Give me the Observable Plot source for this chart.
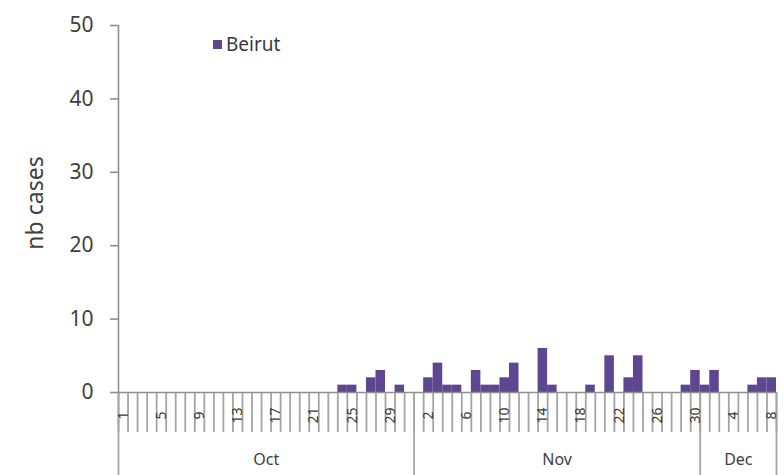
<!DOCTYPE html>
<html><head><meta charset="utf-8">
<script src="https://cdn.jsdelivr.net/npm/d3@7"></script>
<script src="https://cdn.jsdelivr.net/npm/@observablehq/plot@0.6"></script>
<style>
body{margin:0;background:#fff;}
#wrap{position:relative;width:784px;height:475px;font-family:"Noto Sans",sans-serif;}
#legend{position:absolute;left:213px;top:31px;font-size:19px;color:#3a3a3a;display:flex;align-items:center;}
#legend .sw{display:inline-block;width:9px;height:9px;background:#5E4690;margin-right:4px;}
</style></head><body><div id="wrap"><div id="legend"><span class="sw"></span>Beirut</div></div>
<script>
const series = "Beirut";
const months = ["Oct", "Nov", "Dec"];
const monthDays = [31, 30, 8];
// daily cases, Oct 1 .. Dec 8
const octCases = [0,0,0,0,0,0,0,0,0,0,0,0,0,0,0,0,0,0,0,0,0,0,0,1,1,0,2,3,0,1,0];
const novCases = [0,2,4,1,1,0,3,1,1,2,4,0,0,6,1,0,0,0,1,0,5,0,2,5,0,0,0,0,1,3];
const decCases = [1,3,0,0,0,1,2,2];
const yTicks = [0, 10, 20, 30, 40, 50];
const yLabel = "nb cases";
const labelEvery = 4;

const monthly = [octCases, novCases, decCases];
const data = [];
monthly.forEach((arr, m) => arr.forEach((v, k) => data.push({i: data.length, month: months[m], day: k + 1, value: v})));
const n = data.length;
const boundaries = d3.range(n + 1);
const starts = [0];
monthDays.forEach(d => starts.push(starts[starts.length - 1] + d));
const monthCenters = months.map((m, j) => (starts[j] + starts[j + 1]) / 2);
const labelIdx = data.filter(d => d.i % labelEvery === 0);

const chart = Plot.plot({
  width: 784, height: 475,
  marginLeft: 118, marginRight: 8, marginTop: 25, marginBottom: 83,
  style: {fontFamily: "Noto Sans, sans-serif", color: "#404040", background: "#fff"},
  x: {type: "linear", domain: [0, n], axis: null},
  y: {domain: [0, 50], axis: null},
  marks: [
    Plot.rectY(data.filter(d => d.value > 0), {x1: "i", x2: d => d.i + 1, y: "value", fill: "#5E4690"}),
    Plot.axisX({ticks: boundaries, tickSize: 40, tickFormat: () => "", label: null, stroke: "#a4a4a4", strokeWidth: 1.8}),
    Plot.axisX({ticks: starts, tickSize: 83, tickFormat: () => "", label: null, stroke: "#a4a4a4", strokeWidth: 1.8}),
    Plot.axisX({ticks: labelIdx.map(d => d.i + 0.5), tickSize: 0, tickPadding: 23, tickRotate: -90, textAnchor: "middle", label: null,
      tickFormat: v => String(data[Math.floor(v)].day), fontSize: 14, fill: "#3a3a3a"}),
    Plot.axisX({ticks: monthCenters, tickSize: 0, tickPadding: 61, label: null,
      tickFormat: v => months[monthCenters.indexOf(v)], fontSize: 16, fill: "#404040"}),
    Plot.ruleY([0], {stroke: "#909090", strokeWidth: 1.6}),
    Plot.ruleX([0], {stroke: "#909090", strokeWidth: 1.6}),
    Plot.axisY({ticks: yTicks, tickSize: 8, tickPadding: 17, fontSize: 21, label: null, stroke: "#909090", strokeWidth: 1.6, fill: "#404040"}),
    Plot.text([yLabel], {frameAnchor: "left", dx: -83, dy: -6, rotate: -90, textAnchor: "middle", fontSize: 23, fill: "#404040"})
  ]
});
document.getElementById("wrap").prepend(chart);
chart.style.position = "absolute"; chart.style.left = "0"; chart.style.top = "0";
</script></body></html>
